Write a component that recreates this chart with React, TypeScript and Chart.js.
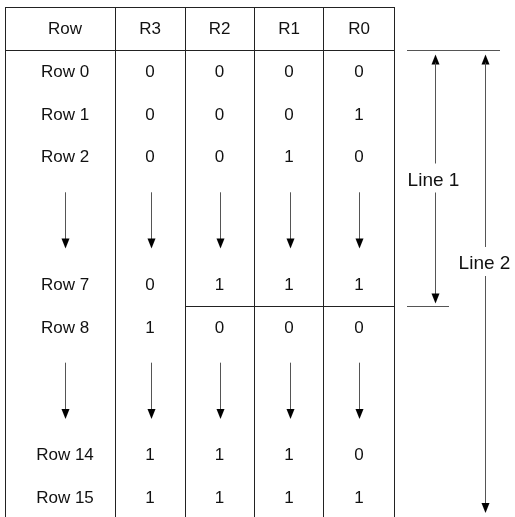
import React, { useEffect, useRef } from "react";
import { Chart, registerables } from "chart.js";

Chart.register(...registerables);

// ---- data ----
const headers = ["Row", "R3", "R2", "R1", "R0"];
const rowLabels = ["Row 0", "Row 1", "Row 2", "", "Row 7", "Row 8", "", "Row 14", "Row 15"];
const r3 = [0, 0, 0, null, 0, 1, null, 1, 1];
const r2 = [0, 0, 0, null, 1, 0, null, 1, 1];
const r1 = [0, 0, 1, null, 1, 0, null, 1, 1];
const r0 = [0, 1, 0, null, 1, 0, null, 0, 1];
const rangeLabels = ["Line 1", "Line 2"];

// ---- layout (not data) ----
const SLOT = 42.6;
const ORIGIN = 28.7;
const rowSlots = [1, 2, 3, 4.5, 6, 7, 8.5, 10, 11];
const colBounds = [5, 115, 185, 254, 323, 394];
const colCenters = [65, 150, 219.5, 289, 359];
const arrowXs = [65, 151, 220, 290, 359];

export default function App() {
  const ref = useRef<HTMLCanvasElement | null>(null);

  useEffect(() => {
    const canvas = ref.current;
    if (!canvas) return;
    const cols = [rowLabels, r3, r2, r1, r0];

    const tablePlugin = {
      id: "tablePlugin",
      afterDraw(chart: any) {
        const ctx = chart.ctx as CanvasRenderingContext2D;
        const xs = chart.scales.x;
        const ys = chart.scales.y;
        const X = (v: number) => xs.getPixelForValue(v);
        const Y = (v: number) => ys.getPixelForValue(v);
        const crisp = (p: number) => Math.round(p) + 0.5;

        const line = (x1: number, y1: number, x2: number, y2: number, color: string) => {
          ctx.save();
          ctx.strokeStyle = color;
          ctx.lineWidth = 1;
          ctx.beginPath();
          ctx.moveTo(x1, y1);
          ctx.lineTo(x2, y2);
          ctx.stroke();
          ctx.restore();
        };
        const head = (x: number, tipY: number, dir: number) => {
          ctx.save();
          ctx.fillStyle = "#000";
          ctx.beginPath();
          ctx.moveTo(x, tipY);
          ctx.lineTo(x - 4, tipY - dir * 10);
          ctx.lineTo(x + 4, tipY - dir * 10);
          ctx.closePath();
          ctx.fill();
          ctx.restore();
        };

        const tableColor = "#222";
        const shaftColor = "#555";

        // table grid
        const top = crisp(Y(-0.5));
        const headerBottom = crisp(Y(0.5));
        const bottom = chart.height;
        colBounds.forEach((b) => {
          line(crisp(X(b)), top, crisp(X(b)), bottom, tableColor);
        });
        line(X(colBounds[0]), top, X(colBounds[5]) + 1, top, tableColor);
        line(X(colBounds[0]), headerBottom, X(colBounds[5]) + 1, headerBottom, tableColor);
        // separator between Row 7 and Row 8 (R2..R0)
        const sep = crisp(Y(6.5));
        line(X(colBounds[2]), sep, X(colBounds[5]) + 1, sep, tableColor);

        // text
        ctx.save();
        ctx.fillStyle = "#111";
        ctx.textAlign = "center";
        ctx.textBaseline = "middle";
        ctx.font = "17px 'Liberation Sans', Arial, sans-serif";
        headers.forEach((h, c) => {
          ctx.fillText(h, X(colCenters[c]), Y(0) + 1);
        });
        rowSlots.forEach((s, r) => {
          cols.forEach((col: any[], c) => {
            const v = col[r];
            if (v === null || v === "") {
              // arrow row
              const x = crisp(X(arrowXs[c])) - 0.5 + 0.5;
              const y1 = Y(s - 0.66);
              const y2 = Y(s + 0.66);
              line(x, y1, x, y2 - 8, shaftColor);
              head(x, y2, 1);
            } else {
              ctx.fillText(String(v), X(colCenters[c]), Y(s) + 1);
            }
          });
        });
        ctx.restore();

        // right-side range markers
        const l1x = 435.5;
        const l2x = 485.5;
        const topLine = crisp(Y(0.5));
        const sepLine = crisp(Y(6.5));
        line(X(407), topLine, X(500), topLine, shaftColor);
        line(X(407), sepLine, X(449), sepLine, shaftColor);

        ctx.save();
        ctx.fillStyle = "#111";
        ctx.textAlign = "center";
        ctx.textBaseline = "middle";
        ctx.font = "19px 'Liberation Sans', Arial, sans-serif";
        // Line 1
        const l1Label = Y(3.54);
        head(X(l1x), topLine + 4, -1);
        line(X(l1x), topLine + 12, X(l1x), l1Label - 16, shaftColor);
        line(X(l1x), l1Label + 13, X(l1x), sepLine - 10, shaftColor);
        head(X(l1x), sepLine - 3, 1);
        ctx.fillText(rangeLabels[0], X(433.5), l1Label + 1);
        // Line 2
        const l2Label = Y(5.5);
        head(X(l2x), topLine + 4, -1);
        line(X(l2x), topLine + 12, X(l2x), l2Label - 16, shaftColor);
        line(X(l2x), l2Label + 13, X(l2x), 505, shaftColor);
        head(X(l2x), 513, 1);
        ctx.fillText(rangeLabels[1], X(484.5), l2Label + 1);
        ctx.restore();
      },
    };

    const chart = new Chart(canvas, {
      type: "scatter",
      data: { datasets: [{ data: [], showLine: false }] },
      options: {
        responsive: false,
        animation: false,
        events: [],
        layout: { padding: 0 },
        plugins: { legend: { display: false }, tooltip: { enabled: false } },
        scales: {
          x: { type: "linear", display: false, min: 0, max: 515 },
          y: {
            type: "linear",
            display: false,
            reverse: true,
            min: -ORIGIN / SLOT,
            max: (517 - ORIGIN) / SLOT,
          },
        },
      },
      plugins: [tablePlugin],
    });
    return () => chart.destroy();
  }, []);

  return (
    <div style={{ position: "fixed", left: 0, top: 0, width: 515, height: 517, background: "#fff" }}>
      <canvas ref={ref} width={515} height={517} style={{ display: "block" }} />
    </div>
  );
}
